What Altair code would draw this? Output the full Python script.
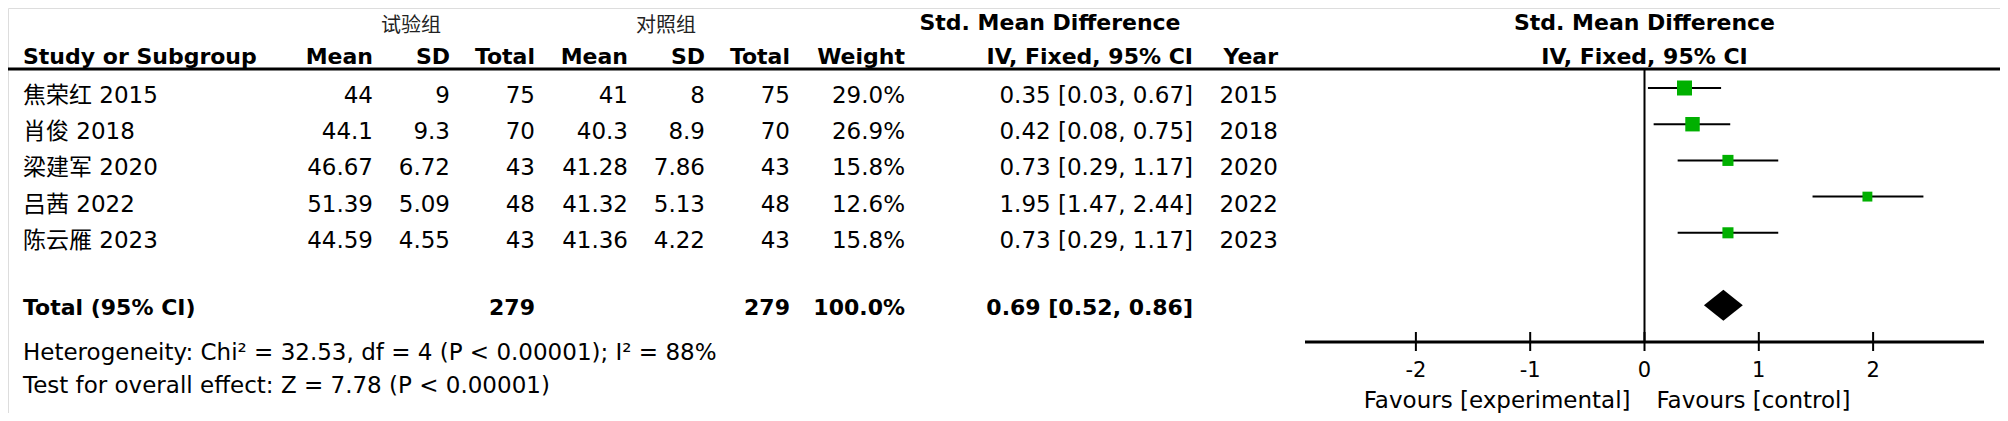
import altair as alt
import pandas as pd

# ---------------- data ----------------
studies = ["焦荣红 2015", "肖俊 2018", "梁建军 2020", "吕茜 2022", "陈云雁 2023"]
exp_mean = [44, 44.1, 46.67, 51.39, 44.59]
exp_sd = [9, 9.3, 6.72, 5.09, 4.55]
exp_n = [75, 70, 43, 48, 43]
ctl_mean = [41, 40.3, 41.28, 41.32, 41.36]
ctl_sd = [8, 8.9, 7.86, 5.13, 4.22]
ctl_n = [75, 70, 43, 48, 43]
weight = [29.0, 26.9, 15.8, 12.6, 15.8]
smd = [0.35, 0.42, 0.73, 1.95, 0.73]
ci_low = [0.03, 0.08, 0.29, 1.47, 0.29]
ci_high = [0.67, 0.75, 1.17, 2.44, 1.17]
years = [2015, 2018, 2020, 2022, 2023]

total_exp = 279
total_ctl = 279
total_weight = 100.0
pooled = 0.69
pooled_low = 0.52
pooled_high = 0.86
heterogeneity = "Heterogeneity: Chi² = 32.53, df = 4 (P < 0.00001); I² = 88%"
overall = "Test for overall effect: Z = 7.78 (P < 0.00001)"
tick_values = [-2, -1, 0, 1, 2]
axis_limits = [-2.97, 2.97]

# ---------------- styling ----------------
FONT = "DejaVu Sans, Noto Sans CJK SC, sans-serif"
CJK = "Noto Sans CJK SC, sans-serif"
FS = 23
FSB = 22
GREEN = "#00B000"

xs = alt.Scale(domain=axis_limits, range=[1297, 1976], nice=False, zero=False)
ys = alt.Scale(domain=[1, 7], range=[80, 297.2], nice=False, zero=False)

n = len(studies)
df = pd.DataFrame({
    "row": list(range(1, n + 1)),
    "study": studies,
    "em": [str(v) for v in exp_mean],
    "esd": [str(v) for v in exp_sd],
    "en": [str(v) for v in exp_n],
    "cm": [str(v) for v in ctl_mean],
    "csd": [str(v) for v in ctl_sd],
    "cn": [str(v) for v in ctl_n],
    "w": [f"{v:.1f}%" for v in weight],
    "ci": [f"{s:.2f} [{l:.2f}, {h:.2f}]" for s, l, h in zip(smd, ci_low, ci_high)],
    "year": [str(v) for v in years],
    "smd": smd,
    "lo": ci_low,
    "hi": ci_high,
    "sq": [v * 7.76 for v in weight],
})

total_row = n + 2
tot = pd.DataFrame({
    "row": [total_row],
    "label": ["Total (95% CI)"],
    "en": [str(total_exp)],
    "cn": [str(total_ctl)],
    "w": [f"{total_weight:.1f}%"],
    "ci": [f"{pooled:.2f} [{pooled_low:.2f}, {pooled_high:.2f}]"],
})

half = 15.5 / 36.2
dia = pd.DataFrame({
    "x": [pooled_low, pooled, pooled_high],
    "yt": [total_row, total_row - half, total_row],
    "yb": [total_row, total_row + half, total_row],
})

ticks = pd.DataFrame({"t": tick_values, "lab": [str(v) for v in tick_values]})
one = pd.DataFrame({"a": [0]})

layers = []

# header line
layers.append(alt.Chart(one).mark_rule(color="black", strokeWidth=3).encode(
    x=alt.value(0), x2=alt.value(1992), y=alt.value(61)))

# zero line
layers.append(alt.Chart(one).mark_rule(color="black", strokeWidth=2).encode(
    x=alt.XDatum(0, type="quantitative", scale=xs, axis=None), y=alt.value(61), y2=alt.value(334)))

# axis line
layers.append(alt.Chart(one).mark_rule(color="black", strokeWidth=3).encode(
    x=alt.XDatum(axis_limits[0], type="quantitative", scale=xs, axis=None),
    x2=alt.X2Datum(axis_limits[1]),
    y=alt.value(334)))

# ticks
layers.append(alt.Chart(ticks).mark_rule(color="black", strokeWidth=2).encode(
    x=alt.X("t:Q", scale=xs, axis=None), y=alt.value(324), y2=alt.value(343)))
layers.append(alt.Chart(ticks).mark_text(font=FONT, fontSize=21, align="center",
                                          baseline="alphabetic", color="black").encode(
    x=alt.X("t:Q", scale=xs, axis=None), y=alt.value(369), text="lab:N"))

# CI lines
layers.append(alt.Chart(df).mark_rule(color="black", strokeWidth=2).encode(
    x=alt.X("lo:Q", scale=xs, axis=None), x2="hi:Q",
    y=alt.Y("row:Q", scale=ys, axis=None)))

# squares
layers.append(alt.Chart(df).mark_square(color=GREEN, opacity=1, filled=True, strokeWidth=0).encode(
    x=alt.X("smd:Q", scale=xs, axis=None),
    y=alt.Y("row:Q", scale=ys, axis=None),
    size=alt.Size("sq:Q", scale=None, legend=None)))

# diamond
layers.append(alt.Chart(dia).mark_area(color="black", orient="vertical", opacity=1).encode(
    x=alt.X("x:Q", scale=xs, axis=None),
    y=alt.Y("yt:Q", scale=ys, axis=None), y2="yb:Q"))

# table columns
cols = [("study", 15, "left"), ("em", 365, "right"), ("esd", 442, "right"),
        ("en", 527, "right"), ("cm", 620, "right"), ("csd", 697, "right"),
        ("cn", 782, "right"), ("w", 897, "right"), ("ci", 1185, "right"),
        ("year", 1270, "right")]
for f, xp, al in cols:
    layers.append(alt.Chart(df).mark_text(font=FONT, fontSize=FS, align=al, baseline="alphabetic",
                                          dy=15, color="black").encode(
        x=alt.value(xp), y=alt.Y("row:Q", scale=ys, axis=None), text=f"{f}:N"))

# total row
tcols = [("label", 15, "left"), ("en", 527, "right"), ("cn", 782, "right"),
         ("w", 897, "right"), ("ci", 1185, "right")]
for f, xp, al in tcols:
    layers.append(alt.Chart(tot).mark_text(font=FONT, fontSize=FSB, fontWeight="bold", align=al,
                                           baseline="alphabetic", dy=10, color="black").encode(
        x=alt.value(xp), y=alt.Y("row:Q", scale=ys, axis=None), text=f"{f}:N"))


def label(text, x, y, align="left", bold=False, size=FS, font=FONT, color="black", dx=0):
    mk = alt.Chart(one).mark_text(text=text, align=align, baseline="alphabetic",
                                  fontWeight="bold" if bold else "normal", fontSize=size,
                                  font=font, color=color, dx=dx)
    if isinstance(x, (int, float)) and not isinstance(x, bool):
        return mk.encode(x=alt.value(x), y=alt.value(y))
    return mk.encode(x=x, y=alt.value(y))


zero_x = alt.XDatum(0, type="quantitative", scale=xs, axis=None)

# group headers
layers.append(label("试验组", 403, 24, align="center", size=20, font=CJK, color="#222222"))
layers.append(label("对照组", 658, 24, align="center", size=20, font=CJK, color="#222222"))
layers.append(label("Std. Mean Difference", 1042, 22, align="center", bold=True, size=FSB))
layers.append(label("Std. Mean Difference", zero_x, 22, align="center", bold=True, size=FSB))

# column headers
hdrs = [("Study or Subgroup", 15, "left"), ("Mean", 365, "right"), ("SD", 442, "right"),
        ("Total", 527, "right"), ("Mean", 620, "right"), ("SD", 697, "right"),
        ("Total", 782, "right"), ("Weight", 897, "right"), ("IV, Fixed, 95% CI", 1185, "right"),
        ("Year", 1270, "right")]
for t, xp, al in hdrs:
    layers.append(label(t, xp, 56, align=al, bold=True, size=FSB))
layers.append(label("IV, Fixed, 95% CI", zero_x, 56, align="center", bold=True, size=FSB))

# footers
layers.append(label(heterogeneity, 15, 352))
layers.append(label(overall, 15, 385))

# favours
layers.append(label("Favours [experimental]", zero_x, 400, align="right", dx=-14))
layers.append(label("Favours [control]", zero_x, 400, align="left", dx=12))

chart = alt.layer(*layers).properties(
    width=1992, height=405, padding=0,
    autosize=alt.AutoSizeParams(type="none"),
).configure_view(stroke=None).configure(background="white")

chart.save("out.html", embed_options={"renderer": "svg", "actions": False})
